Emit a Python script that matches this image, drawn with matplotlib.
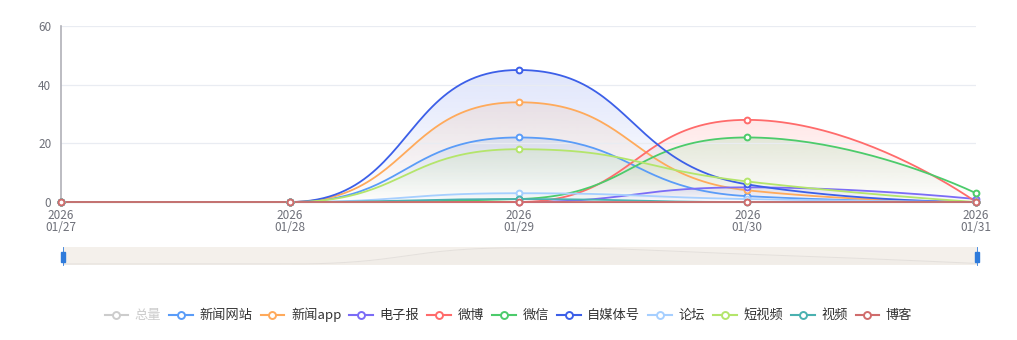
import numpy as np
import matplotlib
matplotlib.use('Agg')
import matplotlib.pyplot as plt
from matplotlib.lines import Line2D
from matplotlib.patches import Rectangle

plt.rcParams['font.family'] = ['Noto Sans CJK SC', 'DejaVu Sans']

# 数据
dates = ['2026\n01/27', '2026\n01/28', '2026\n01/29', '2026\n01/30', '2026\n01/31']
names = ['新闻网站', '新闻app', '电子报', '微博', '微信', '自媒体号', '论坛', '短视频', '视频', '博客']
colors = ['#5A9CF8', '#FFAA5B', '#7B6CF6', '#FF6B6B', '#4CCB6B', '#3C5FE8',
          '#A6CFFF', '#B4E56B', '#4AB1B0', '#D06C6C']
news_site = [0, 0, 22, 2, 0]
news_app = [0, 0, 34, 4, 0]
e_paper = [0, 0, 0, 5, 1]
weibo = [0, 0, 0, 28, 0]
weixin = [0, 0, 1, 22, 3]
we_media = [0, 0, 45, 6, 0]
forum = [0, 0, 3, 1, 0]
short_video = [0, 0, 18, 7, 0]
video = [0, 0, 1, 0, 0]
blog = [0, 0, 0, 0, 0]
series = [news_site, news_app, e_paper, weibo, weixin, we_media, forum, short_video, video, blog]
total = list(np.sum(np.array(series), axis=0))


def smooth_curve(vals, sx=229.0, sy=2.933, smooth=0.5, n=50):
    # 类似 echarts 的平滑曲线（像素空间计算控制点）
    px = np.arange(len(vals)) * sx
    py = np.asarray(vals, float) * sy
    xs, ys = [px[0]], [py[0]]
    cp0 = (px[0], py[0])
    t = np.linspace(0, 1, n)[1:]
    for k in range(1, len(vals)):
        x, y = px[k], py[k]
        pX, pY = px[k - 1], py[k - 1]
        if k + 1 < len(vals):
            nX, nY = px[k + 1], py[k + 1]
            vx, vy = nX - pX, nY - pY
            l0 = np.hypot(x - pX, y - pY)
            l1 = np.hypot(nX - x, nY - y)
            r = l1 / (l0 + l1)
            ncx = x + vx * smooth * r
            ncy = y + vy * smooth * r
            ncx = min(max(ncx, min(nX, x)), max(nX, x))
            ncy = min(max(ncy, min(nY, y)), max(nY, y))
            vx, vy = ncx - x, ncy - y
            c1x = x - vx * l0 / l1
            c1y = y - vy * l0 / l1
            c1x = min(max(c1x, min(pX, x)), max(pX, x))
            c1y = min(max(c1y, min(pY, y)), max(pY, y))
            vx, vy = x - c1x, y - c1y
            ncx = x + vx * l1 / l0
            ncy = y + vy * l1 / l0
            cp1 = (c1x, c1y)
            nxt = (ncx, ncy)
        else:
            cp1 = (x, y)
            nxt = None
        bx = ((1 - t) ** 3 * pX + 3 * (1 - t) ** 2 * t * cp0[0]
              + 3 * (1 - t) * t ** 2 * cp1[0] + t ** 3 * x)
        by = ((1 - t) ** 3 * pY + 3 * (1 - t) ** 2 * t * cp0[1]
              + 3 * (1 - t) * t ** 2 * cp1[1] + t ** 3 * y)
        xs.extend(bx)
        ys.extend(by)
        cp0 = nxt
    return np.array(xs) / sx, np.array(ys) / sy


fig = plt.figure(figsize=(10.17, 3.4), dpi=100)
ax = fig.add_axes([61 / 1017, 138 / 340, 915 / 1017, 176 / 340])

x = np.arange(len(dates))
for vals, name, c in zip(series, names, colors):
    cx, cy = smooth_curve(vals)
    top = max(max(vals), 0.5)
    # 渐变填充
    poly = ax.fill_between(cx, cy, 0, facecolor='none', edgecolor='none')
    rgba = np.zeros((100, 1, 4))
    rgba[..., :3] = matplotlib.colors.to_rgb(c)
    rgba[:, 0, 3] = np.linspace(0.16, 0.0, 100)
    im = ax.imshow(rgba, extent=[0, 4, 0, top], origin='upper', aspect='auto', interpolation='bilinear')
    im.set_clip_path(poly.get_paths()[0], transform=ax.transData)
    ax.plot(cx, cy, color=c, lw=1.3, clip_on=False, zorder=3)
    ax.plot(x, vals, ls='none', marker='o', ms=4.2, mfc='white', mec=c, mew=1.4,
            clip_on=False, zorder=4)

ax.set_xlim(0, 4)
ax.set_ylim(0, 60)
ax.set_yticks([0, 20, 40, 60])
ax.set_xticks(x)
ax.set_xticklabels(dates, linespacing=0.95)
ax.tick_params(axis='both', length=0, labelsize=8.5, colors='#6E7079')
ax.tick_params(axis='x', pad=5)
ax.tick_params(axis='y', pad=7)
ax.grid(axis='y', color='#E9ECF2', lw=0.9)
ax.set_axisbelow(True)
for s in ['top', 'right']:
    ax.spines[s].set_visible(False)
ax.spines['left'].set_color('#B0B0B8')
ax.spines['left'].set_linewidth(1.2)
ax.spines['bottom'].set_color('#6E7079')

# 数据缩放条
sl = fig.add_axes([63 / 1017, 75 / 340, 914 / 1017, 18 / 340])
sl.set_facecolor('#F4F0EB')
tx, ty = smooth_curve(total, sy=0.12)
sl.plot(tx, ty, color='#E4E0DC', lw=0.7)
sl.fill_between(tx, ty, 0, color='#F1EDE8', lw=0)
sl.set_xlim(0, 4)
sl.set_ylim(-8, max(total) * 1.05)
sl.set_xticks([])
sl.set_yticks([])
for s in sl.spines.values():
    s.set_visible(False)
for hx in [0, 4]:
    sl.add_patch(Rectangle((hx - 0.008, 0.15 * max(total)), 0.016, 0.6 * max(total),
                           color='#2F7BDB', clip_on=False, zorder=5))
    sl.plot([hx, hx], [-8, max(total) * 1.05], color='#2F7BDB', lw=0.6, clip_on=False, zorder=5)

# 图例
handles = [Line2D([], [], color='#CCCCCC', marker='o', mfc='white', mec='#CCCCCC', mew=1.4, ms=5, lw=1.5)]
for c in colors:
    handles.append(Line2D([], [], color=c, marker='o', mfc='white', mec=c, mew=1.4, ms=5, lw=1.5))
leg = fig.legend(handles, ['总量'] + names, loc='center', bbox_to_anchor=(0.5, 1 - 315 / 340),
                 ncol=11, frameon=False, fontsize=9.5, handlelength=1.8, handletextpad=0.5,
                 columnspacing=0.6)
for i, txt in enumerate(leg.get_texts()):
    txt.set_color('#CCCCCC' if i == 0 else '#333333')

fig.savefig('out.png', dpi=100)
